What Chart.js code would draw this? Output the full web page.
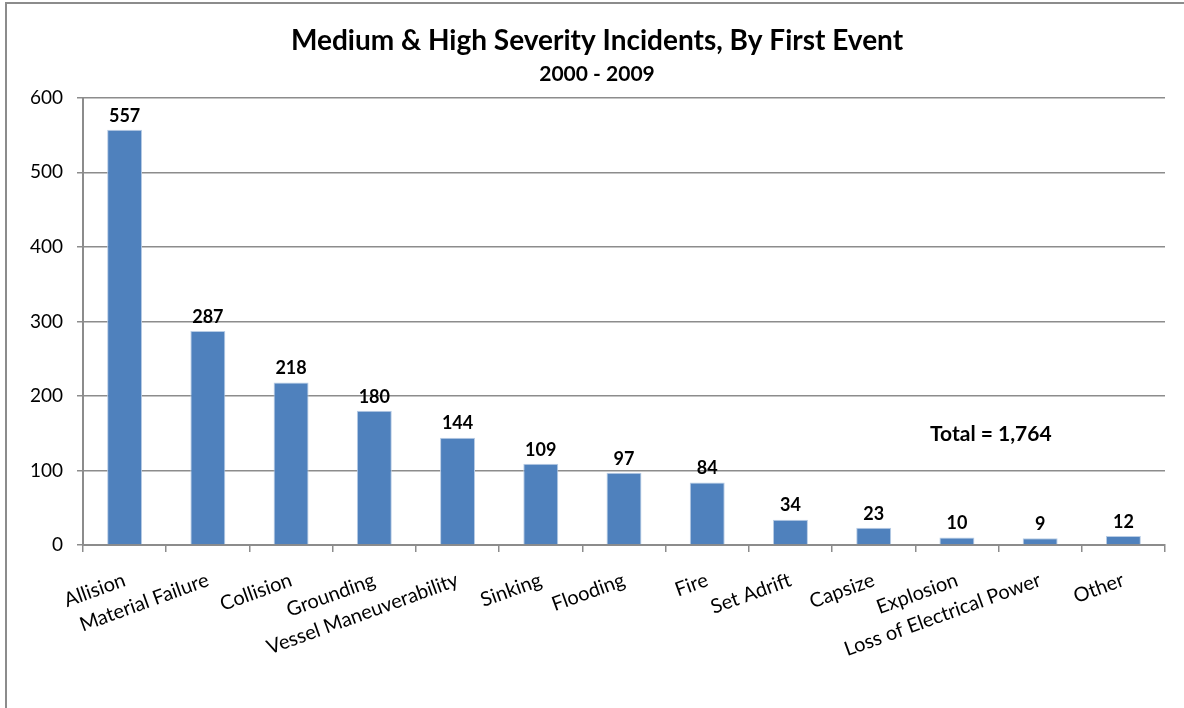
<!DOCTYPE html>
<html>
<head>
<meta charset="utf-8">
<script src="https://cdn.jsdelivr.net/npm/chart.js@4.4.1/dist/chart.umd.min.js"></script>
<style>
  body { margin: 0; background: #fff; }
  #wrap { position: relative; width: 1184px; height: 708px; }
  #frame {
    position: absolute; left: 5px; top: 2px; width: 1200px; height: 720px;
    border-left: 2px solid #8c8c8c; border-top: 2px solid #8c8c8c;
    pointer-events: none;
  }
</style>
</head>
<body>
<div id="wrap">
  <canvas id="myChart"></canvas>
  <div id="frame"></div>
</div>
<script>
// Incidentes por primeiro evento, 2000-2009

const categories = ['Allision', 'Material Failure', 'Collision', 'Grounding', 'Vessel Maneuverability',
  'Sinking', 'Flooding', 'Fire', 'Set Adrift', 'Capsize', 'Explosion', 'Loss of Electrical Power', 'Other'];
const incidents = [557, 287, 218, 180, 144, 109, 97, 84, 34, 23, 10, 9, 12];
const yTicks = [0, 100, 200, 300, 400, 500, 600];

const FONT = 'Lato';
const total = incidents.reduce((a, b) => a + b, 0);

// valores acima das barras + total
const barLabels = {
  id: 'barLabels',
  afterDatasetsDraw(chart) {
    const c = chart.ctx;
    const meta = chart.getDatasetMeta(0);
    c.save();
    c.fillStyle = '#000';
    c.font = 'bold 18px ' + FONT;
    c.textAlign = 'center';
    c.textBaseline = 'bottom';
    meta.data.forEach((bar, i) => {
      c.fillText(incidents[i], bar.x, bar.y - 5);
    });
    const area = chart.chartArea;
    c.font = 'bold 21px ' + FONT;
    c.textBaseline = 'middle';
    c.fillText('Total = ' + total.toLocaleString('en-US'),
      area.left + (area.right - area.left) * 0.839,
      area.top + (area.bottom - area.top) * 0.753);
    c.restore();
  }
};

const ctx = document.getElementById('myChart');

new Chart(ctx, {
  type: 'bar',
  data: {
    labels: categories,
    datasets: [{
      label: 'Incidents',
      data: incidents,
      backgroundColor: '#4f81bd',
      borderColor: '#b9cde5',
      borderWidth: { left: 1, right: 1, top: 1, bottom: 0 },
      barPercentage: 0.42,
      categoryPercentage: 1
    }]
  },
  options: {
    responsive: true,
    maintainAspectRatio: false,
    animation: false,
    layout: { padding: { left: 29, right: 19, top: 0, bottom: 0 } },
    scales: {
      x: {
        grid: { display: true, drawOnChartArea: false, offset: true, color: '#8c8c8c', lineWidth: 1.5, tickLength: 7 },
        border: { color: '#8c8c8c', width: 2 },
        ticks: {
          autoSkip: false, minRotation: 20, maxRotation: 20, padding: 16,
          color: '#000', font: { family: FONT, size: 20 }
        },
        afterFit(scale) { scale.height = 163; }
      },
      y: {
        min: 0, max: 600,
        afterBuildTicks(scale) { scale.ticks = yTicks.map(v => ({ value: v })); },
        grid: { color: '#8c8c8c', lineWidth: 1.5, tickLength: 6 },
        border: { color: '#8c8c8c', width: 2 },
        ticks: { padding: 14, color: '#000', font: { family: FONT, size: 19 } },
        afterFit(scale) { scale.width = 54; }
      }
    },
    plugins: {
      legend: { display: false },
      tooltip: { enabled: false },
      title: {
        display: true,
        text: 'Medium & High Severity Incidents, By First Event',
        color: '#000',
        font: { family: FONT, size: 28, weight: 'bold' },
        padding: { top: 24, bottom: 4 }
      },
      subtitle: {
        display: true,
        text: '2000 - 2009',
        color: '#000',
        font: { family: FONT, size: 21, weight: 'bold' },
        padding: { top: 0, bottom: 11 }
      }
    }
  },
  plugins: [barLabels]
});
</script>
</body>
</html>
